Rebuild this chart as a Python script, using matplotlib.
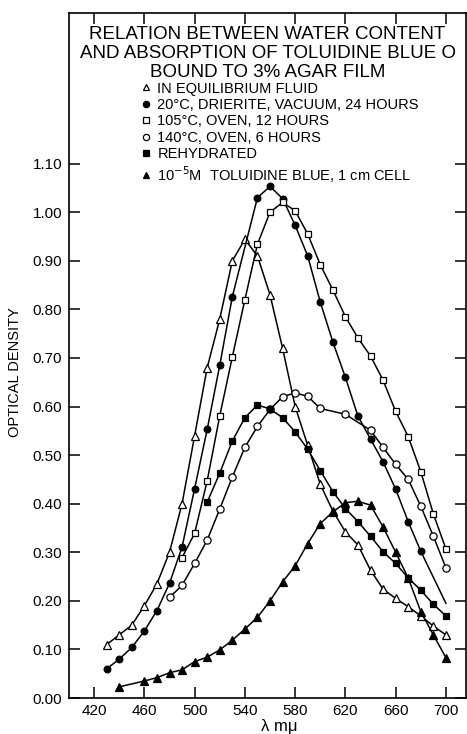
import matplotlib
matplotlib.use("Agg")
import matplotlib.pyplot as plt
from matplotlib.ticker import FormatStrFormatter

plt.rcParams["font.family"] = ["Liberation Sans", "DejaVu Sans"]

# optical density, wavelength in m-mu
equil_x = [430, 440, 450, 460, 470, 480, 490, 500, 510, 520, 530, 540, 550, 560,
           570, 580, 590, 600, 610, 620, 630, 640, 650, 660, 670, 680, 690, 700]
equil_y = [0.11, 0.13, 0.15, 0.19, 0.235, 0.30, 0.40, 0.54, 0.68, 0.78, 0.90, 0.944,
           0.91, 0.83, 0.72, 0.60, 0.52, 0.44, 0.385, 0.342, 0.315, 0.263, 0.224,
           0.205, 0.188, 0.169, 0.148, 0.13]

drierite_x = [430, 440, 450, 460, 470, 480, 490, 500, 510, 520, 530, 550, 560, 570,
              580, 590, 600, 610, 620, 630, 640, 650, 660, 670, 680, 700]
drierite_y = [0.06, 0.08, 0.104, 0.138, 0.18, 0.236, 0.311, 0.431, 0.553, 0.685,
              0.826, 1.03, 1.053, 1.028, 0.973, 0.91, 0.815, 0.733, 0.66, 0.58,
              0.533, 0.486, 0.43, 0.363, 0.302, 0.195]

oven105_x = [490, 500, 510, 520, 530, 540, 550, 560, 570, 580, 590, 600, 610, 620,
             630, 640, 650, 660, 670, 680, 690, 700]
oven105_y = [0.289, 0.339, 0.447, 0.581, 0.702, 0.82, 0.934, 1.0, 1.02, 1.003, 0.955,
             0.892, 0.84, 0.785, 0.741, 0.704, 0.654, 0.59, 0.538, 0.466, 0.379, 0.307]

oven140_x = [480, 490, 500, 510, 520, 530, 540, 550, 560, 570, 580, 590, 600, 620,
             640, 650, 660, 670, 680, 690, 700]
oven140_y = [0.207, 0.232, 0.277, 0.325, 0.389, 0.455, 0.516, 0.559, 0.594, 0.62,
             0.628, 0.621, 0.596, 0.584, 0.551, 0.516, 0.481, 0.45, 0.395, 0.333, 0.268]

rehyd_x = [510, 520, 530, 540, 550, 560, 570, 580, 590, 600, 610, 620, 630, 640,
           650, 660, 670, 680, 690, 700]
rehyd_y = [0.403, 0.463, 0.529, 0.577, 0.603, 0.595, 0.577, 0.548, 0.512, 0.468,
           0.425, 0.39, 0.363, 0.333, 0.301, 0.277, 0.247, 0.222, 0.193, 0.169]

tb_x = [440, 460, 470, 480, 490, 500, 510, 520, 530, 540, 550, 560, 570, 580, 590,
        600, 610, 620, 630, 640, 650, 660, 670, 680, 690, 700]
tb_y = [0.023, 0.035, 0.042, 0.052, 0.058, 0.075, 0.084, 0.099, 0.119, 0.142, 0.166,
        0.20, 0.239, 0.272, 0.318, 0.359, 0.383, 0.402, 0.405, 0.397, 0.352, 0.30,
        0.247, 0.178, 0.13, 0.083]

labels = [
    "IN EQUILIBRIUM FLUID",
    "20°C, DRIERITE, VACUUM, 24 HOURS",
    "105°C, OVEN, 12 HOURS",
    "140°C, OVEN, 6 HOURS",
    "REHYDRATED",
    "10$^{-5}$M  TOLUIDINE BLUE, 1 cm CELL",
]

fig = plt.figure(figsize=(4.67, 7.34), dpi=100)
ax = fig.add_axes([69 / 467, 1 - 698 / 734, (466 - 69) / 467, (698 - 13) / 734])

lw = 1.1
common = dict(color="black", lw=lw, markeredgecolor="black", markeredgewidth=0.9)
ax.plot(equil_x, equil_y, marker="^", ms=5.5, markerfacecolor="white", label=labels[0], **common)
ax.plot(drierite_x, drierite_y, marker="o", ms=4.8, markerfacecolor="black",
        markevery=list(range(len(drierite_x) - 1)), label=labels[1], **common)
ax.plot(oven105_x, oven105_y, marker="s", ms=4.8, markerfacecolor="white", label=labels[2], **common)
ax.plot(oven140_x, oven140_y, marker="o", ms=5.2, markerfacecolor="white", label=labels[3], **common)
ax.plot(rehyd_x, rehyd_y, marker="s", ms=4.8, markerfacecolor="black", label=labels[4], **common)
ax.plot(tb_x, tb_y, marker="^", ms=5.2, markerfacecolor="black", label=labels[5], **common)

ax.set_xlim(400, 716)
ax.set_ylim(0, 1.41)
ax.set_xticks(range(420, 701, 40))
ax.set_yticks([i / 10 for i in range(12)])
ax.yaxis.set_major_formatter(FormatStrFormatter("%.2f"))
ax.tick_params(direction="in", length=8, width=1.1, labelsize=11,
               top=True, right=True)
ax.tick_params(axis="x", pad=4)
ax.tick_params(axis="y", pad=5)
for s in ax.spines.values():
    s.set_linewidth(1.2)

ax.set_ylabel("OPTICAL DENSITY", fontsize=10.5)
ax.yaxis.set_label_coords(-0.118, 0.476)
ax.set_xlabel("λ mμ", fontsize=12)
ax.xaxis.set_label_coords(0.53, -0.03)

ax.text(0.5, 0.981,
        "RELATION BETWEEN WATER CONTENT\nAND ABSORPTION OF TOLUIDINE BLUE O\nBOUND TO 3% AGAR FILM",
        transform=ax.transAxes, ha="center", va="top", fontsize=13.5, linespacing=1.15)

leg = ax.legend(loc="upper left", bbox_to_anchor=(0.195, 0.9), frameon=False,
                handlelength=0, handletextpad=0.75, borderpad=0, borderaxespad=0,
                labelspacing=0.17, fontsize=10.5, numpoints=1)
for h in leg.legend_handles:
    h.set_markersize(4.5)

fig.savefig("out.png", dpi=100)
